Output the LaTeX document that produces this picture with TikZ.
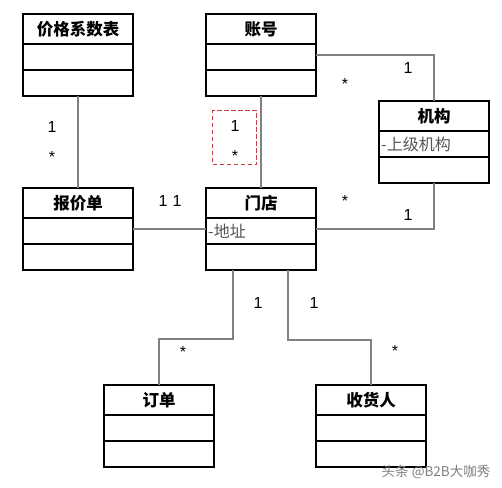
\documentclass[tikz,border=0pt]{standalone}
\usepackage{fontspec}
\setmainfont{Liberation Sans}
\newfontfamily\cjk{Noto Sans CJK SC}
\usetikzlibrary{calc}
\definecolor{linegray}{RGB}{128,128,128}
\definecolor{hlred}{RGB}{200,60,70}
\definecolor{attrgray}{RGB}{85,85,85}
\tikzset{
 cls/.style={draw=black, line width=1.6pt, minimum width=110pt, minimum height=82pt, anchor=north west, inner sep=0pt, outer sep=0pt, fill=white},
 divider/.style={draw=black, line width=1.4pt},
 ttl/.style={font=\cjk\bfseries\fontsize{16.5}{16.5}\selectfont, inner sep=0pt},
 attr/.style={font=\cjk\fontsize{16}{16}\selectfont, text=attrgray, anchor=west, inner sep=0pt},
 conn/.style={draw=linegray, line width=1.1pt},
 mult/.style={font=\fontsize{16}{16}\selectfont, inner sep=0pt, anchor=base},
 hlbox/.style={draw=hlred, dash pattern=on 4.5pt off 2.5pt, line width=1.4pt, minimum width=44pt, minimum height=54pt, anchor=north west, inner sep=0pt},
 wm/.style={font=\cjk\fontsize{13.5}{13.5}\selectfont, text=gray, inner sep=0pt}
}
\newcommand\umlcls[4]{%
 \node[cls] (#1) at (#2,#3) {};
 \node[ttl] (#1-t) at ($(#1.north)+(0,15)$) {#4};
 \draw[divider] ($(#1.north west)+(0,30)$) -- ($(#1.north east)+(0,30)$);
 \draw[divider] ($(#1.north west)+(0,56)$) -- ($(#1.north east)+(0,56)$);
}
\begin{document}
\begin{tikzpicture}[x=1pt,y=-1pt]
\fill[white] (0,0) rectangle (502,487);
\useasboundingbox (0,0) rectangle (502,487);

% classes
\umlcls{jgxs}{23}{14}{价格系数表}
\umlcls{zh}{206}{14}{账号}
\umlcls{jg}{379}{101}{机构}
\umlcls{bjd}{23}{188}{报价单}
\umlcls{md}{206}{188}{门店}
\umlcls{dd}{104}{385}{订单}
\umlcls{shr}{316}{385}{收货人}

\node[attr] (jg-a) at ($(jg.north west)+(2,43)$) {-上级机构};
\node[attr] (md-a) at ($(md.north west)+(2,43)$) {-地址};

% connectors
\coordinate (mdA) at ($(md.south west)+(27,0)$);
\coordinate (mdB) at ($(md.south west)+(82,0)$);
\coordinate (b1) at (159,339);
\coordinate (b2) at (371,340);
\draw[conn] (jgxs.south) -- (bjd.north);
\draw[conn] (bjd.east) -- (md.west);
\draw[conn] (zh.south) -- (md.north);
\draw[conn] (zh.east) -| (jg.north);
\draw[conn] (md.east) -| (jg.south);
\draw[conn] (mdA) |- (b1) -- (dd.north);
\draw[conn] (mdB) |- (b2) -- (shr.north);

% highlight box
\node[hlbox] (hl) at (212,110) {};

% multiplicities
\node[mult] (m1) at (52,132) {1};
\node[mult] (m2) at (52,162) {*};
\node[mult] (m3) at (163,206) {1};
\node[mult] (m4) at (177,206) {1};
\node[mult] (m5) at (235,131) {1};
\node[mult] (m6) at (235,161) {*};
\node[mult] (m7) at (345,89) {*};
\node[mult] (m8) at (408,73) {1};
\node[mult] (m9) at (345,206) {*};
\node[mult] (m10) at (408,220) {1};
\node[mult] (m11) at (258,308) {1};
\node[mult] (m12) at (314,308) {1};
\node[mult] (m13) at (183,357) {*};
\node[mult] (m14) at (395,356) {*};

% watermark
\node[wm] (wmk) at (436,472) {头条 @B2B大咖秀};
\end{tikzpicture}
\end{document}
